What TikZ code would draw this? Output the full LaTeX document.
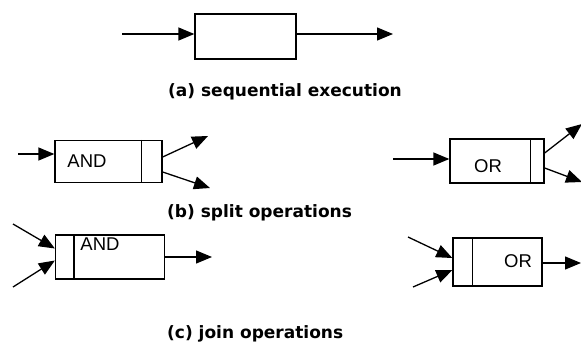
\documentclass[tikz,border=0pt]{standalone}
\usepackage{fontspec}
\setmainfont{Liberation Sans}
\newfontfamily\capfont{DejaVu Sans}
\usetikzlibrary{arrows.meta}
\begin{document}
\begin{tikzpicture}[x=1pt,y=-1pt,
  flow/.style={line width=1.3pt,-{Triangle[length=16pt,width=13pt]}},
  task/.style={draw,line width=1.3pt,inner sep=0pt},
  bar/.style={line width=1.3pt},
  opname/.style={inner sep=0pt,font=\fontsize{18.5}{18.5}\selectfont},
  caption/.style={inner sep=0pt,anchor=base west,font=\capfont\bfseries\fontsize{17}{17}\selectfont}]
\useasboundingbox (0,0) rectangle (581,343);

% (a) sequential execution
\node[task,minimum width=101pt,minimum height=45pt] (seq) at (245.5,36.5) {};
\coordinate (seqin) at (122,34);
\coordinate (seqout) at (393,34);
\draw[flow] (seqin) -- (seqin -| seq.west);
\draw[flow] (seqout -| seq.east) -- (seqout);
\node[caption] (capa) at (168,96) {(a) sequential execution};

% (b) split operations
\node[task,minimum width=107pt,minimum height=42pt] (sand) at (108.5,161.5) {};
\draw[bar] ([xshift=-21pt]sand.north east) -- ([xshift=-21pt]sand.south east);
\node[opname] (sandtxt) at (87,161) {AND};
\coordinate (sandin) at (18,154);
\coordinate (sandoa) at (208,136);
\coordinate (sandob) at (210,188);
\draw[flow] (sandin) -- (sandin -| sand.west);
\draw[flow] ([yshift=4.5pt]sand.east) -- (sandoa);
\draw[flow] ([yshift=-10.5pt]sand.east) -- (sandob);

\node[task,minimum width=94pt,minimum height=44pt] (sor) at (497,161) {};
\draw[bar] ([xshift=-14pt]sor.north east) -- ([xshift=-14pt]sor.south east);
\node[opname] (sortxt) at (488,166) {OR};
\coordinate (sorin) at (393,159);
\coordinate (soroa) at (582,124);
\coordinate (sorob) at (582,182);
\draw[flow] (sorin) -- (sorin -| sor.west);
\draw[flow] ([yshift=8pt]sor.east) -- (soroa);
\draw[flow] ([yshift=-7pt]sor.east) -- (sorob);

\node[caption] (capb) at (167,217) {(b) split operations};

% (c) join operations
\node[task,minimum width=109pt,minimum height=44pt] (jand) at (110,257) {};
\draw[bar] ([xshift=19pt]jand.north west) -- ([xshift=19pt]jand.south west);
\node[opname] (jandtxt) at (100,244) {AND};
\coordinate (jandia) at (13,224);
\coordinate (jandib) at (13,287);
\coordinate (jandout) at (212,257);
\draw[flow] (jandia) -- ([yshift=8.5pt]jand.west);
\draw[flow] (jandib) -- ([yshift=-3.5pt]jand.west);
\draw[flow] (jandout -| jand.east) -- (jandout);

\node[task,minimum width=89pt,minimum height=48pt] (jor) at (497.5,262) {};
\draw[bar] ([xshift=20pt]jor.north west) -- ([xshift=20pt]jor.south west);
\node[opname] (jortxt) at (518,261) {OR};
\coordinate (joria) at (408,237);
\coordinate (jorib) at (413,287);
\coordinate (jorout) at (581,263);
\draw[flow] (joria) -- ([yshift=4pt]jor.west);
\draw[flow] (jorib) -- ([yshift=-8pt]jor.west);
\draw[flow] (jorout -| jor.east) -- (jorout);

\node[caption] (capc) at (167,338) {(c) join operations};
\end{tikzpicture}
\end{document}
